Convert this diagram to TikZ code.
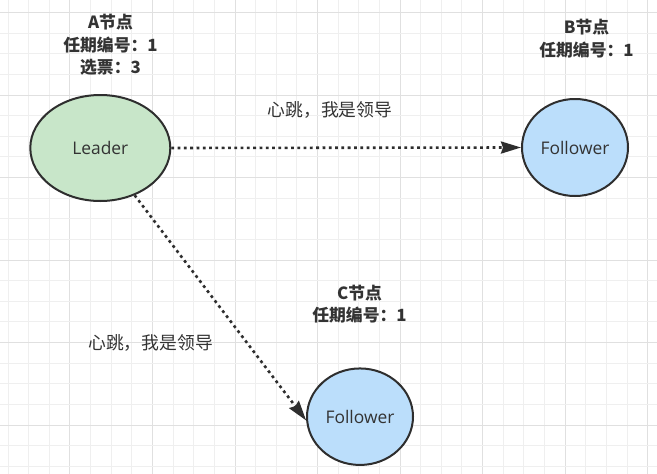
\documentclass[tikz,border=0pt]{standalone}
\usepackage{fontspec}
\setmainfont{Open Sans}
\newfontfamily\cjk{Noto Sans CJK SC}
\usetikzlibrary{shapes.geometric,arrows.meta}
\definecolor{gridminor}{HTML}{EFEFEF}
\definecolor{gridmajor}{HTML}{E0E0E0}
\definecolor{leaderfill}{HTML}{C8E6C9}
\definecolor{followfill}{HTML}{BBDEFB}
\definecolor{strokecol}{HTML}{2E2E2E}
\definecolor{textcol}{HTML}{333333}
\tikzset{
  statenode/.style={ellipse, draw=strokecol, line width=2pt, inner sep=0pt,
    text=textcol, font=\fontsize{17.4}{20}\selectfont},
  titlenode/.style={align=center, inner sep=0pt, text=textcol,
    font=\cjk\bfseries\fontsize{16.8}{22.5}\selectfont},
  msgnode/.style={inner sep=0pt, text=textcol, font=\cjk\fontsize{17.8}{20}\selectfont},
  heartbeat/.style={draw=strokecol, line width=2.6pt, dash pattern=on 2.8pt off 3.5pt,
    -{Stealth[length=20pt,width=12pt,inset=2pt]}}
}
\begin{document}
\begin{tikzpicture}[x=1pt,y=-1pt]
\useasboundingbox (0,0) rectangle (657,474);
\fill[white] (0,0) rectangle (657,474);
% grid
\foreach \k in {0,...,31}{
  \pgfmathsetmacro{\xx}{8.1+20.63*\k}
  \pgfmathtruncatemacro{\mm}{mod(\k,4)}
  \ifnum\mm=3
    \draw[gridmajor, line width=1pt] (\xx,0) -- (\xx,474);
  \else
    \draw[gridminor, line width=1pt] (\xx,0) -- (\xx,474);
  \fi
}
\foreach \k in {0,...,22}{
  \pgfmathsetmacro{\yy}{12.5+20.63*\k}
  \pgfmathtruncatemacro{\mm}{mod(\k,4)}
  \ifnum\mm=0
    \draw[gridmajor, line width=1pt] (0,\yy) -- (657,\yy);
  \else
    \draw[gridminor, line width=1pt] (0,\yy) -- (657,\yy);
  \fi
}
% nodes
\node[statenode, fill=leaderfill, minimum width=140pt, minimum height=106pt] (L) at (100.3,148) {Leader};
\node[statenode, fill=followfill, minimum width=106pt, minimum height=97pt] (B) at (575,147.5) {Follower};
\node[statenode, fill=followfill, minimum width=106pt, minimum height=96.5pt] (C) at (360,416.7) {Follower};
% titles
\node[titlenode] (tA) at (110.5,45) {A节点\\任期编号：1\\选票：3};
\node[titlenode] (tB) at (586.5,38.5) {B节点\\任期编号：1};
\node[titlenode] (tC) at (359.5,304) {C节点\\任期编号：1};
% edges
\draw[heartbeat] (L.east) -- (B.west);
\draw[heartbeat] (L.-54) -- (C.184);
% edge labels
\node[msgnode] (mB) at (330,110) {心跳，我是领导};
\node[msgnode] (mC) at (150.5,343.3) {心跳，我是领导};
\end{tikzpicture}
\end{document}
